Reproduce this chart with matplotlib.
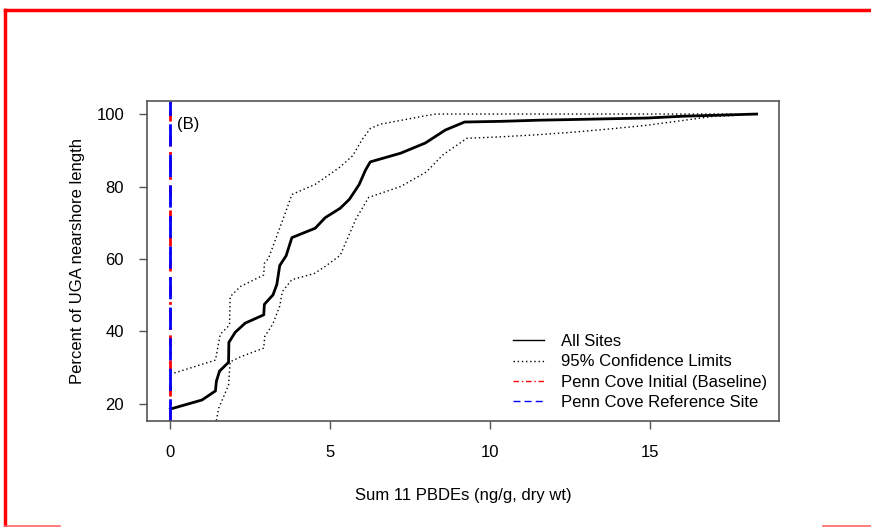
import matplotlib
matplotlib.use("Agg")
import matplotlib.pyplot as plt
from matplotlib.lines import Line2D

plt.rcParams['font.family'] = ['Liberation Sans', 'DejaVu Sans']

# All sites CDF (ng/g dry wt vs percent of nearshore length)
all_x = [0, 0.99, 1.41, 1.44, 1.54, 1.82, 1.83, 2.03, 2.34, 2.92, 2.94, 3.21, 3.33,
         3.42, 3.62, 3.80, 4.53, 4.84, 5.31, 5.6, 5.9, 6.1, 6.25, 7.2, 7.97, 8.6,
         9.2, 10.4, 11.5, 12.66, 13.75, 14.9, 16.03, 17.2, 18.33]
all_y = [18.6, 21.1, 23.6, 26.3, 29.1, 31.5, 37.0, 39.8, 42.3, 44.6, 47.5, 50.1, 53.0,
         58.2, 60.9, 65.9, 68.5, 71.4, 74.0, 76.5, 80.5, 84.5, 86.8, 89.2, 92.0, 95.6,
         97.8, 98.0, 98.3, 98.5, 98.7, 98.9, 99.4, 99.7, 100.0]

# upper 95% confidence limit
up_x = [0, 1.41, 1.56, 1.85, 1.87, 2.19, 2.92, 2.94, 3.07, 3.59, 3.80, 4.53, 5.31,
        5.7, 6.0, 6.25, 6.56, 7.9, 8.3, 17.6]
up_y = [28.2, 32.1, 39.2, 41.8, 49.6, 52.4, 55.6, 58.8, 60.2, 72.6, 77.8, 80.6, 85.4,
        88.5, 93.0, 96.0, 97.2, 99.4, 100.0, 100.0]

# lower 95% confidence limit
lo_x = [1.40, 1.44, 1.51, 1.82, 1.87, 2.19, 2.92, 2.95, 3.2, 3.42, 3.5, 3.8, 4.5,
        4.85, 5.31, 5.8, 6.2, 7.2, 8.0, 8.53, 9.27, 10.3, 11.5, 12.6, 13.75, 14.9,
        16.0, 17.0, 17.6]
lo_y = [12.0, 15.5, 18.8, 25.2, 31.6, 33.0, 35.4, 38.6, 42.0, 47.0, 51.0, 54.3, 56.0,
        58.0, 61.0, 71.0, 77.0, 80.0, 84.0, 88.8, 93.3, 93.7, 94.3, 95.0, 95.9, 96.9,
        98.2, 99.4, 99.6]

penn_cove_initial = 0.0
penn_cove_reference = 0.0

legend_labels = ['All Sites', '95% Confidence Limits',
                 'Penn Cove Initial (Baseline)', 'Penn Cove Reference Site']

fs = 12

fig = plt.figure(figsize=(8.71, 5.27), dpi=100)
ax = fig.add_axes([147 / 871, 1 - 421 / 527, 632 / 871, 320 / 527])

ax.plot(all_x, all_y, color='black', lw=2.0)
ax.plot(up_x, up_y, color='black', lw=1.0, linestyle=(0, (1, 2)))
ax.plot(lo_x, lo_y, color='black', lw=1.0, linestyle=(0, (1, 2)))
ax.axvline(penn_cove_initial, color='red', lw=2.0, linestyle=(0, (4, 2, 1, 2)))
ax.axvline(penn_cove_reference, color='blue', lw=2.0, linestyle=(0, (8, 3)))

ax.text(0.2, 97, '(B)', fontsize=fs, ha='left', va='center')

ax.set_xlim(-0.73, 19.03)
ax.set_ylim(15.3, 103.6)
ax.set_xticks([0, 5, 10, 15])
ax.set_yticks([20, 40, 60, 80, 100])
ax.tick_params(axis='both', direction='out', length=5.5, width=1, color='#555555',
               labelsize=fs)
ax.tick_params(axis='x', pad=12)
ax.tick_params(axis='y', pad=11)
for s in ax.spines.values():
    s.set_color('#555555')
    s.set_linewidth(1.2)

ax.set_xlabel('Sum 11 PBDEs (ng/g, dry wt)', fontsize=fs, labelpad=20)
ax.set_ylabel('Percent of UGA nearshore length', fontsize=fs, labelpad=8)

handles = [Line2D([], [], color='black', lw=1.0),
           Line2D([], [], color='black', lw=1.0, linestyle=(0, (1, 2))),
           Line2D([], [], color='red', lw=1.0, linestyle=(0, (4, 2, 1, 2))),
           Line2D([], [], color='blue', lw=1.0, linestyle=(0, (5, 3)))]
ax.legend(handles, legend_labels, loc='lower right', frameon=False, fontsize=fs,
          handlelength=1.9, handletextpad=1.0, labelspacing=0.32,
          bbox_to_anchor=(1.005, -0.013))

# red page border
fig.add_artist(Line2D([5 / 871, 1], [1 - 10 / 527] * 2, color='red', lw=2.5,
                      transform=fig.transFigure))
fig.add_artist(Line2D([5 / 871] * 2, [0, 1 - 10 / 527], color='red', lw=2.5,
                      transform=fig.transFigure))
fig.add_artist(Line2D([5 / 871, 60 / 871], [1 / 527] * 2, color='#ff6666', lw=1.2,
                      transform=fig.transFigure))
fig.add_artist(Line2D([823 / 871, 1], [1 / 527] * 2, color='#ff6666', lw=1.2,
                      transform=fig.transFigure))

fig.savefig('out.png', dpi=100)
